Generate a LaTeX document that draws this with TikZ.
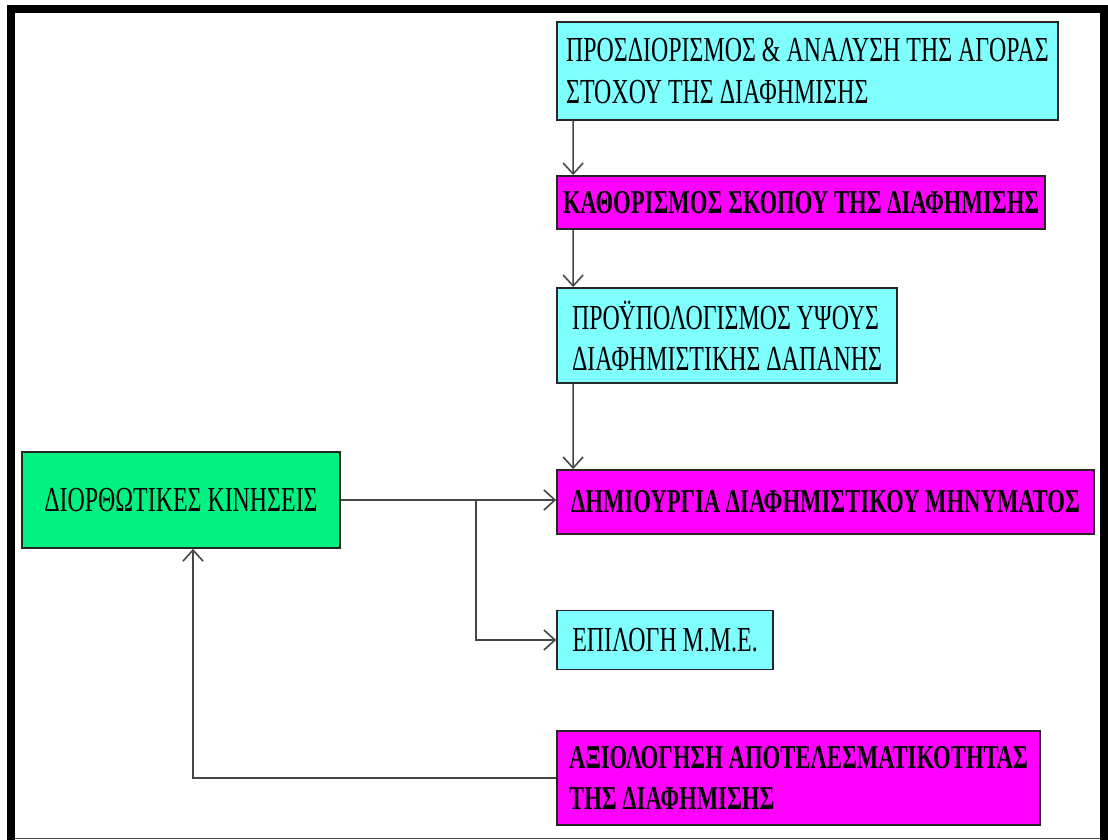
\documentclass[tikz,border=0pt]{standalone}
\usepackage{fontspec}
\usepackage{xcolor}
\usepackage{tikz}
\usetikzlibrary{arrows.meta}
\newfontfamily\boxfont[FakeStretch=0.68]{Liberation Serif}
\definecolor{boxcyan}{RGB}{128,255,255}
\definecolor{boxpink}{RGB}{255,0,255}
\definecolor{boxgreen}{RGB}{0,242,128}
\definecolor{linegray}{RGB}{70,70,70}

\begin{document}
\begin{tikzpicture}[main/.style = {draw=black!85, line width=1pt, rectangle, inner sep=0pt, align=left, font=\boxfont\fontsize{20}{23.5}\selectfont},
    pink/.style = {main, fill=boxpink, font=\boxfont\bfseries\fontsize{19}{23.5}\selectfont},
    link/.style = {-{Straight Barb[length=0.22cm, width=0.4cm]}, draw=linegray, line width=0.9pt}]
        \useasboundingbox (0,0) rectangle (22.16,-16.8);
        \fill[white] (0,0) rectangle (22.16,-16.8);
        % frame
        \draw[line width=0.16cm] (0.22,-16.8) -- (0.22,-0.18) -- (22.08,-0.18) -- (22.08,-16.8);
        \draw[linegray, line width=0.6pt] (0.3,-16.77) -- (22.0,-16.77);
        % steps
        \node[main, fill=boxcyan, minimum width=10.02cm, minimum height=1.96cm] (1) at (16.15,-1.42) {ΠΡΟΣΔΙΟΡΙΣΜΟΣ \& ΑΝΑΛΥΣΗ ΤΗΣ ΑΓΟΡΑΣ\\ΣΤΟΧΟΥ ΤΗΣ ΔΙΑΦΗΜΙΣΗΣ};
        \node[pink, minimum width=9.76cm, minimum height=1.06cm] (2) at (16.02,-4.05) {ΚΑΘΟΡΙΣΜΟΣ ΣΚΟΠΟΥ ΤΗΣ ΔΙΑΦΗΜΙΣΗΣ};
        \node[main, fill=boxcyan, minimum width=6.8cm, minimum height=1.9cm] (3) at (14.54,-6.71) {ΠΡΟΫΠΟΛΟΓΙΣΜΟΣ ΥΨΟΥΣ\\ΔΙΑΦΗΜΙΣΤΙΚΗΣ ΔΑΠΑΝΗΣ};
        \node[pink, minimum width=10.74cm, minimum height=1.28cm] (4) at (16.51,-10.04) {ΔΗΜΙΟΥΡΓΙΑ ΔΙΑΦΗΜΙΣΤΙΚΟΥ ΜΗΝΥΜΑΤΟΣ};
        \node[main, fill=boxcyan, minimum width=4.32cm, minimum height=1.18cm] (5) at (13.3,-12.8) {ΕΠΙΛΟΓΗ Μ.Μ.Ε.};
        \node[pink, minimum width=9.66cm, minimum height=1.88cm] (6) at (15.97,-15.56) {ΑΞΙΟΛΟΓΗΣΗ ΑΠΟΤΕΛΕΣΜΑΤΙΚΟΤΗΤΑΣ\\ΤΗΣ ΔΙΑΦΗΜΙΣΗΣ};
        \node[main, fill=boxgreen, minimum width=6.36cm, minimum height=1.92cm] (7) at (3.62,-10.0) {ΔΙΟΡΘΩΤΙΚΕΣ ΚΙΝΗΣΕΙΣ};
        % connectors
        \draw[link] ([xshift=0.34cm]1.south west) -- ([xshift=0.34cm]2.north west);
        \draw[link] ([xshift=0.34cm]2.south west) -- ([xshift=0.34cm]3.north west);
        \draw[link] ([xshift=0.34cm]3.south west) -- ([xshift=0.34cm]4.north west);
        \draw[link] (7.east) -- (7.east -| 4.west);
        \coordinate (split) at (9.52,-10.0);
        \draw[link] (split) |- (5.west);
        \draw[link] (6.west) -| ([xshift=0.24cm]7.south);
    \end{tikzpicture}
\end{document}
